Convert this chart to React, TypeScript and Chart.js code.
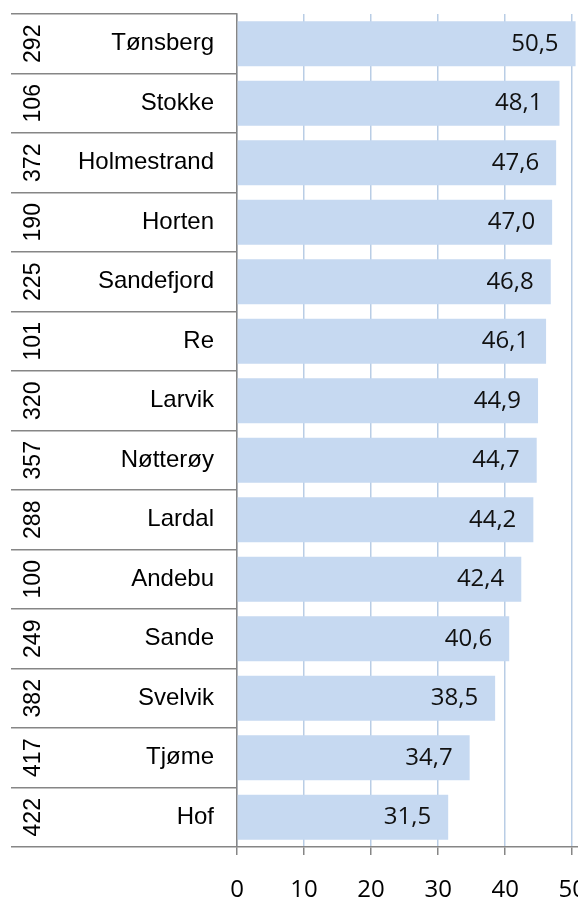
import React, { useEffect, useRef } from "react";
import { Chart, registerables } from "chart.js";

Chart.register(...registerables);

const codes = ["292", "106", "372", "190", "225", "101", "320", "357", "288", "100", "249", "382", "417", "422"];
const names = ["Tønsberg", "Stokke", "Holmestrand", "Horten", "Sandefjord", "Re", "Larvik", "Nøtterøy", "Lardal", "Andebu", "Sande", "Svelvik", "Tjøme", "Hof"];
const values = [50.5, 48.1, 47.6, 47.0, 46.8, 46.1, 44.9, 44.7, 44.2, 42.4, 40.6, 38.5, 34.7, 31.5];

const AXIS_GRAY = "#868686";
const W = 674;
const H = 920;

const overlayPlugin = {
  id: "overlay",
  afterDatasetsDraw(chart: any) {
    const ctx = chart.ctx;
    const y = chart.scales.y;
    const meta = chart.getDatasetMeta(0);
    ctx.save();
    // rotated codes
    ctx.fillStyle = "#000";
    ctx.font = "23px 'Liberation Sans', Arial, sans-serif";
    ctx.textAlign = "center";
    ctx.textBaseline = "middle";
    codes.forEach((c, i) => {
      const py = y.getPixelForTick(i);
      ctx.save();
      ctx.translate(34, py);
      ctx.rotate(-Math.PI / 2);
      ctx.fillText(c, 0, 0);
      ctx.restore();
    });
    // value labels
    ctx.font = "24px 'Open Sans', sans-serif";
    ctx.textAlign = "right";
    ctx.fillStyle = "#111";
    meta.data.forEach((bar: any, i: number) => {
      ctx.fillText(values[i].toFixed(1).replace(".", ","), bar.x - 17, bar.y);
    });
    ctx.restore();
  },
};

export default function App() {
  const ref = useRef<HTMLCanvasElement | null>(null);
  useEffect(() => {
    if (!ref.current) return;
    const chart = new Chart(ref.current, {
      type: "bar",
      data: {
        labels: names,
        datasets: [
          {
            data: values,
            backgroundColor: "#c6d9f1",
            borderWidth: 0,
            barPercentage: 0.76,
            categoryPercentage: 1,
          },
        ],
      },
      options: {
        indexAxis: "y",
        animation: false,
        responsive: false,
        devicePixelRatio: 1,
        layout: { padding: { top: 14, left: 0, right: 0, bottom: 0 } },
        plugins: { legend: { display: false }, tooltip: { enabled: false } },
        scales: {
          x: {
            min: 0,
            max: 60,
            ticks: {
              stepSize: 10,
              padding: 21,
              color: "#000",
              font: { family: "'Open Sans', sans-serif", size: 24 },
            },
            grid: { color: "#b9cde5", tickColor: AXIS_GRAY, tickLength: 8, lineWidth: 1.5 },
            border: { color: AXIS_GRAY, width: 1.5 },
            afterFit: (s: any) => {
              s.height = H - 847;
            },
          },
          y: {
            ticks: {
              padding: -203,
              color: "#000",
              font: { family: "'Liberation Sans', Arial, sans-serif", size: 24 },
            },
            grid: {
              offset: true,
              drawOnChartArea: false,
              tickLength: 226,
              color: AXIS_GRAY,
              lineWidth: 1.5,
            },
            border: { color: AXIS_GRAY, width: 1.5 },
            afterFit: (s: any) => {
              s.width = 237;
            },
          },
        },
      },
      plugins: [overlayPlugin],
    });
    return () => chart.destroy();
  }, []);
  return (
    <div style={{ position: "absolute", left: 0, top: 0, width: 578, height: 897, overflow: "hidden" }}>
      <canvas ref={ref} width={W} height={H} style={{ width: W, height: H, display: "block" }} />
    </div>
  );
}
